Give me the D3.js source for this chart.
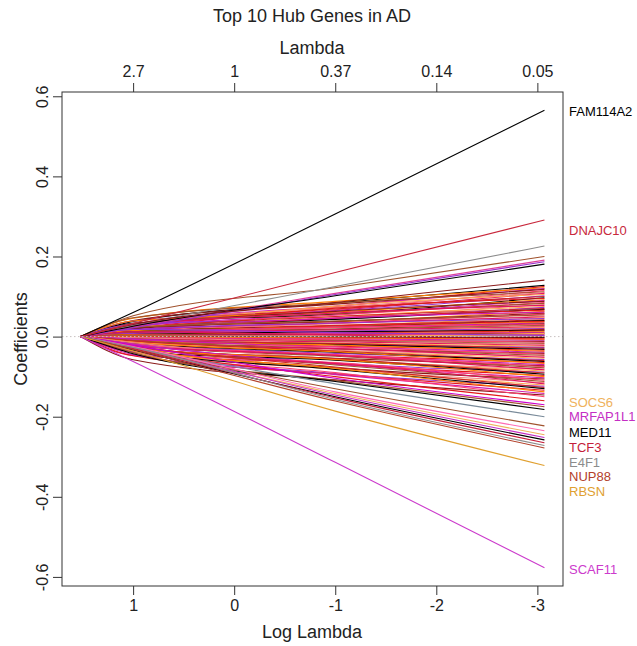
<!DOCTYPE html>
<html><head><meta charset="utf-8">
<script src="https://cdn.jsdelivr.net/npm/d3@7"></script>
<style>body{margin:0;background:#fff} text{font-family:"Liberation Sans",Arial,sans-serif;fill:#222}</style>
</head><body><svg id="c" width="637" height="646"></svg>
<script>
// Log-lambda knots at which each coefficient path is read (first knot: all paths start at 0)
const logLambdaKnots = [1.52, 1.0, -1.0, -3.07];
const bottomTicks = [1, 0, -1, -2, -3];
const topTickLabels = ["2.7", "1", "0.37", "0.14", "0.05"];
const yTicks = [-0.6, -0.4, -0.2, 0, 0.2, 0.4, 0.6];
const yTickLabels = ["-0.6", "-0.4", "-0.2", "0.0", "0.2", "0.4", "0.6"];

// Labelled hub genes: coefficient at log-lambda 1, -1, -3.07
const labeledGenes = ["FAM114A2","DNAJC10","SOCS6","MRFAP1L1","MED11","TCF3","E4F1","NUP88","RBSN","SCAF11"];
const labeledCoefs = [
  [0.060, 0.306, 0.565],
  [0.033, 0.160, 0.291],
  [-0.030, -0.142, -0.245],
  [-0.028, -0.146, -0.252],
  [-0.033, -0.150, -0.258],
  [-0.030, -0.153, -0.265],
  [-0.027, -0.157, -0.272],
  [-0.032, -0.161, -0.278],
  [-0.036, -0.186, -0.322],
  [-0.062, -0.314, -0.577]
];
const labeledColors = ["#000000","#C8283C","#EFB25C","#C42EC4","#000000","#C41E3A","#8C8C8C","#B3402A","#E0A030","#CC3ACC"];
const labelCoefPos = [0.563, 0.265, -0.163, -0.200, -0.238, -0.276, -0.313, -0.350, -0.387, -0.581];

// Other genes in the tails
const tailCoefs = [
  [0.052, 0.122, 0.200], [0.028, 0.125, 0.226], [0.024, 0.108, 0.191],
  [0.022, 0.105, 0.187], [0.026, 0.102, 0.181], [0.030, 0.085, 0.141],
  [-0.030, -0.100, -0.160], [-0.022, -0.104, -0.170], [-0.040, -0.110, -0.175],
  [-0.043, -0.112, -0.182], [-0.028, -0.118, -0.200], [-0.030, -0.130, -0.223],
  [-0.025, -0.138, -0.235]
];
const tailColors = ["#A0522D","#8C8C8C","#E0409A","#9A32CD","#000000","#8B1A1A",
  "#E31A1C","#CD00CD","#A0522D","#000000","#7A8B9A","#A0522D","#FF69B4"];

// Dense band of small coefficients
const bandCoefs = [
  [0.038,0.084,0.128],[0.028,0.075,0.125],[0.046,0.088,0.122],[0.031,0.076,0.120],
  [0.040,0.081,0.118],[0.023,0.067,0.115],[0.047,0.084,0.112],[0.031,0.073,0.110],
  [0.032,0.065,0.108],[0.023,0.076,0.105],[0.039,0.064,0.102],[0.026,0.069,0.100],
  [0.033,0.056,0.097],[0.019,0.071,0.095],[0.039,0.061,0.092],[0.025,0.054,0.090],
  [0.026,0.063,0.088],[0.019,0.054,0.085],[0.032,0.057,0.083],[0.021,0.046,0.080],
  [0.027,0.059,0.078],[0.015,0.050,0.075],[0.031,0.044,0.073],[0.020,0.050,0.070],
  [0.020,0.043,0.068],[0.015,0.046,0.066],[0.024,0.037,0.063],[0.016,0.046,0.061],
  [0.020,0.038,0.058],[0.011,0.034,0.056],[0.023,0.039,0.054],[0.014,0.032,0.051],
  [0.015,0.034,0.049],[0.010,0.027,0.047],[0.017,0.034,0.045],[0.011,0.028,0.042],
  [0.014,0.024,0.040],[0.008,0.027,0.038],[0.015,0.023,0.036],[0.010,0.023,0.034],
  [0.010,0.019,0.032],[0.007,0.023,0.030],[0.011,0.018,0.028],[0.007,0.016,0.026],
  [0.008,0.017,0.024],[0.004,0.014,0.022],[0.008,0.014,0.020],[0.005,0.010,0.018],
  [0.005,0.012,0.016],[0.003,0.009,0.014],[0.005,0.007,0.012],[0.003,0.007,0.010],
  [0.003,0.005,0.008],[0.001,0.004,0.006],[0.002,0.002,0.004],[0.001,0.002,0.002],
  [0.012,0.004,-0.006],[-0.010,-0.002,0.008],[0.018,0.010,0.003],[-0.015,-0.006,-0.001],
  [-0.001,-0.001,-0.002],[-0.001,-0.003,-0.004],[-0.001,-0.004,-0.007],[-0.003,-0.006,-0.009],
  [-0.005,-0.009,-0.012],[-0.003,-0.008,-0.014],[-0.005,-0.011,-0.017],[-0.003,-0.013,-0.019],
  [-0.006,-0.013,-0.022],[-0.009,-0.016,-0.024],[-0.006,-0.020,-0.027],[-0.009,-0.017,-0.029],
  [-0.013,-0.020,-0.032],[-0.008,-0.024,-0.034],[-0.011,-0.021,-0.037],[-0.007,-0.026,-0.039],
  [-0.011,-0.031,-0.042],[-0.016,-0.026,-0.044],[-0.010,-0.030,-0.047],[-0.016,-0.034,-0.049],
  [-0.021,-0.030,-0.052],[-0.013,-0.036,-0.054],[-0.017,-0.042,-0.057],[-0.011,-0.036,-0.060],
  [-0.016,-0.039,-0.062],[-0.023,-0.046,-0.065],[-0.014,-0.038,-0.067],[-0.022,-0.047,-0.070],
  [-0.029,-0.054,-0.073],[-0.018,-0.045,-0.075],[-0.023,-0.049,-0.078],[-0.015,-0.057,-0.081],
  [-0.022,-0.047,-0.083],[-0.031,-0.058,-0.086],[-0.019,-0.066,-0.089],[-0.029,-0.055,-0.091],
  [-0.038,-0.059,-0.094],[-0.023,-0.068,-0.097],[-0.030,-0.057,-0.100],[-0.019,-0.069,-0.103],
  [-0.028,-0.078,-0.106],[-0.039,-0.065,-0.109],[-0.024,-0.071,-0.112],[-0.037,-0.081,-0.115],
  [-0.047,-0.067,-0.118],[-0.029,-0.081,-0.121],[-0.037,-0.092,-0.124],[-0.023,-0.076,-0.127],
  [-0.034,-0.082,-0.130],[-0.048,-0.094,-0.134],[-0.029,-0.079,-0.138],[-0.045,-0.095,-0.142],
  [-0.058,-0.108,-0.146],[-0.036,-0.090,-0.150]
];
const bandPalette = ["#000000","#E31A1C","#FF7F00","#D01CB0","#8B1A1A","#FF3E6E",
  "#A0522D","#F08080","#E0115F","#FFA54F","#9A32CD","#CD2626"];

const svg = d3.select("#c");
const L = 62, R = 563, T = 92, B = 586;

const allEnds = [...labeledCoefs, ...tailCoefs, ...bandCoefs].map(r => r[2]);
const xExt = d3.extent(logLambdaKnots), xPad = 0.04 * (xExt[1] - xExt[0]);
const yExt = d3.extent(allEnds), yPad = 0.04 * (yExt[1] - yExt[0]);
const x = d3.scaleLinear().domain([xExt[1] + xPad, xExt[0] - xPad]).range([L, R]);
const y = d3.scaleLinear().domain([yExt[0] - yPad, yExt[1] + yPad]).range([B, T]);

const line = d3.line().x(d => x(d[0])).y(d => y(d[1])).curve(d3.curveMonotoneX);
const toPts = r => logLambdaKnots.map((k, i) => [k, i === 0 ? 0 : r[i - 1]]);

const g = svg.append("g");
bandCoefs.forEach((r, i) => g.append("path").attr("d", line(toPts(r)))
  .attr("fill", "none").attr("stroke", bandPalette[i % bandPalette.length]).attr("stroke-width", 1.1));
tailCoefs.forEach((r, i) => g.append("path").attr("d", line(toPts(r)))
  .attr("fill", "none").attr("stroke", tailColors[i]).attr("stroke-width", 1.1));
labeledCoefs.forEach((r, i) => g.append("path").attr("d", line(toPts(r)))
  .attr("fill", "none").attr("stroke", labeledColors[i]).attr("stroke-width", 1.1));

// zero reference line
svg.append("line").attr("x1", L).attr("x2", R).attr("y1", y(0)).attr("y2", y(0))
  .attr("stroke", "#c8c0c0").attr("stroke-width", 1).attr("stroke-dasharray", "1.5,2.5");

// frame
svg.append("rect").attr("x", L).attr("y", T).attr("width", R - L).attr("height", B - T)
  .attr("fill", "none").attr("stroke", "#333").attr("stroke-width", 1);

// bottom axis
const ax = svg.append("g").attr("transform", `translate(0,${B})`)
  .call(d3.axisBottom(x).tickValues(bottomTicks).tickSize(9).tickPadding(5).tickFormat(d => d3.format("d")(d).replace("−", "-")));
// top axis
const axT = svg.append("g").attr("transform", `translate(0,${T})`)
  .call(d3.axisTop(x).tickValues(bottomTicks).tickSize(9).tickPadding(6).tickFormat((d, i) => topTickLabels[i]));
// left axis
const axL = svg.append("g").attr("transform", `translate(${L},0)`)
  .call(d3.axisLeft(y).tickValues(yTicks).tickSize(9).tickFormat((d, i) => yTickLabels[i]));
[ax, axT, axL].forEach(a => {
  a.select(".domain").remove();
  a.selectAll(".tick line").attr("stroke", "#333");
  a.selectAll("text").attr("font-size", 16).attr("fill", "#222").style("font-family", '"Liberation Sans",Arial,sans-serif');
});
axL.selectAll(".tick text").attr("x", null).attr("dy", null)
  .attr("text-anchor", "middle")
  .attr("transform", "translate(-14,0) rotate(-90)");

// titles
svg.append("text").attr("x", 312).attr("y", 22).attr("text-anchor", "middle").attr("font-size", 18).text("Top 10 Hub Genes in AD");
svg.append("text").attr("x", 312).attr("y", 54).attr("text-anchor", "middle").attr("font-size", 18).text("Lambda");
svg.append("text").attr("x", 312).attr("y", 638).attr("text-anchor", "middle").attr("font-size", 18).text("Log Lambda");
svg.append("text").attr("transform", `translate(27,${(T + B) / 2}) rotate(-90)`).attr("text-anchor", "middle").attr("font-size", 18).text("Coefficients");

// gene labels
labeledGenes.forEach((n, i) => svg.append("text").attr("x", 569).attr("y", y(labelCoefPos[i]))
  .attr("dy", "0.36em").attr("font-size", 13).style("fill", labeledColors[i]).text(n));
</script></body></html>
